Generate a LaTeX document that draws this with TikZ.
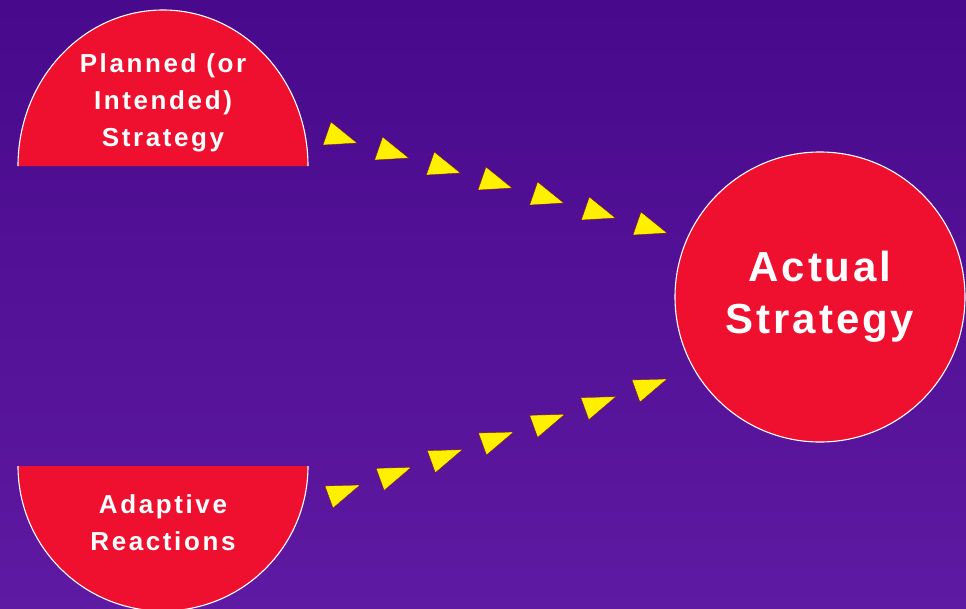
\documentclass[tikz,border=0pt]{standalone}
\usepackage{fontspec}
\setmainfont{Liberation Sans}
\newfontfamily\labelfont[LetterSpace=10]{Liberation Sans}
\newfontfamily\actualfont[LetterSpace=7]{Liberation Sans}
\usetikzlibrary{calc, positioning}

\definecolor{bgtop}{RGB}{72,9,140}
\definecolor{bgbot}{RGB}{94,26,162}
\definecolor{stratred}{RGB}{238,16,46}
\definecolor{triyellow}{RGB}{255,240,0}

\begin{document}
\begin{tikzpicture}[
    x=1pt, y=-1pt,
    halfdisc/.style={fill=stratred},
    rim/.style={draw=white, line width=1.1pt},
    stratlabel/.style={text=white, align=center, font=\labelfont\bfseries\fontsize{26}{37}\selectfont},
    actualnode/.style={circle, fill=stratred, draw=white, line width=1.1pt, minimum size=290pt, text=white, align=center, font=\actualfont\bfseries\fontsize{42}{52}\selectfont},
    tri/.style={fill=triyellow, draw=black!50!red, line width=0.25pt}
]

% Background
\path[use as bounding box] (0,0) rectangle (966,608);
\shade[top color=bgtop, bottom color=bgbot] (0,0) rectangle (966,608);

% Half discs
\fill[halfdisc] (18,166) arc[start angle=180, end angle=360, x radius=145, y radius=156] -- cycle;
\draw[rim] (18,166) arc[start angle=180, end angle=360, x radius=145, y radius=156];
\fill[halfdisc] (18,466) arc[start angle=180, end angle=0, x radius=145, y radius=145] -- cycle;
\draw[rim] (18,466) arc[start angle=180, end angle=0, x radius=145, y radius=145];

% Nodes
\node[stratlabel] (Planned) at (163,103) {Planned (or\\Intended)\\Strategy};
\node[stratlabel] (Adaptive) at (163,523) {Adaptive\\Reactions};
\node[actualnode] (Actual) at (820,297) {Actual\\Strategy};

% Dotted arrows
\coordinate (TopStart) at (340,134);
\coordinate (TopEnd) at (650,224);
\coordinate (BotStart) at (342,496);
\coordinate (BotEnd) at (649,390);

\foreach \i in {0,...,6} {
    \filldraw[tri] ($(TopStart)!\i/6!(TopEnd)$) ++(-17,11) -- ++(8,-23) -- ++(26,21) -- cycle;
    \filldraw[tri] ($(BotStart)!\i/6!(BotEnd)$) ++(-17,-10) -- ++(35,-1) -- ++(-27,23) -- cycle;
}

\end{tikzpicture}
\end{document}
